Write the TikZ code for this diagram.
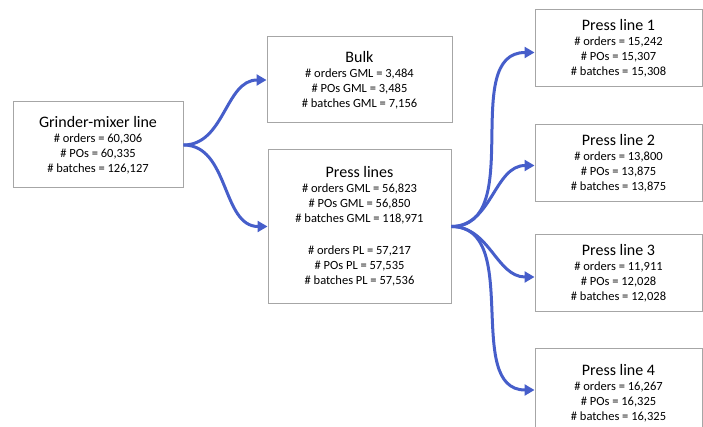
\documentclass[tikz,border=0pt]{standalone}
\usepackage{fontspec}
\setmainfont{Carlito}
\usetikzlibrary{arrows.meta}
\definecolor{flowblue}{RGB}{70,94,202}
\newcommand{\titlesize}{\fontsize{16}{18}\selectfont}
\newcommand{\bodysize}{\fontsize{12.5}{15}\selectfont}
\newcommand{\stagewidth}{167pt}
\tikzstyle{stage}=[draw=gray!70, line width=1pt, fill=white, align=center, inner sep=0,
                   font=\bodysize, minimum width=\stagewidth, minimum height=77pt]
\tikzstyle{flow}=[draw=flowblue, line width=3pt, -{Triangle[length=10pt, width=11pt]}]

\begin{document}
\begin{tikzpicture}[x=1pt, y=-1pt]
    % page is 703 x 427
    \clip (0, 0) rectangle (703, 427);
    \node[stage, minimum width=170pt, minimum height=86pt] (gml) at (98, 145)
        {{\titlesize Grinder-mixer line}\\ \# orders = 60,306\\ \# POs = 60,335\\ \# batches = 126,127};
    \node[stage, minimum width=185pt, minimum height=86pt] (bulk) at (359.5, 80)
        {{\titlesize Bulk}\\ \# orders GML = 3,484\\ \# POs GML = 3,485\\ \# batches GML = 7,156};
    \node[stage, minimum width=183pt, minimum height=153pt] (press) at (359.5, 226.5)
        {{\titlesize Press lines}\\ \# orders GML = 56,823\\ \# POs GML = 56,850\\ \# batches GML = 118,971\\[17pt]
         \# orders PL = 57,217\\ \# POs PL = 57,535\\ \# batches PL = 57,536};
    \node[stage] (pl1) at (618.5, 48.5)
        {{\titlesize Press line 1}\\ \# orders = 15,242\\ \# POs = 15,307\\ \# batches = 15,308};
    \node[stage] (pl2) at (618.5, 163.5)
        {{\titlesize Press line 2}\\ \# orders = 13,800\\ \# POs = 13,875\\ \# batches = 13,875};
    \node[stage] (pl3) at (618.5, 273)
        {{\titlesize Press line 3}\\ \# orders = 11,911\\ \# POs = 12,028\\ \# batches = 12,028};
    \node[stage, minimum height=90pt] (pl4) at (618.5, 393)
        {{\titlesize Press line 4}\\ \# orders = 16,267\\ \# POs = 16,325\\ \# batches = 16,325};
    \draw[flow] (gml.east) to[out=0, in=180] (bulk.west);
    \draw[flow] (gml.east) to[out=0, in=180] (press.west);
    \draw[flow] (press.east) to[out=0, in=180] ([yshift=-4pt]pl1.west);
    \draw[flow] (press.east) to[out=0, in=180] ([yshift=-2pt]pl2.west);
    \draw[flow] (press.east) to[out=0, in=180] ([yshift=-4pt]pl3.west);
    \draw[flow] (press.east) to[out=0, in=180] ([yshift=3pt]pl4.west);
\end{tikzpicture}
\end{document}
